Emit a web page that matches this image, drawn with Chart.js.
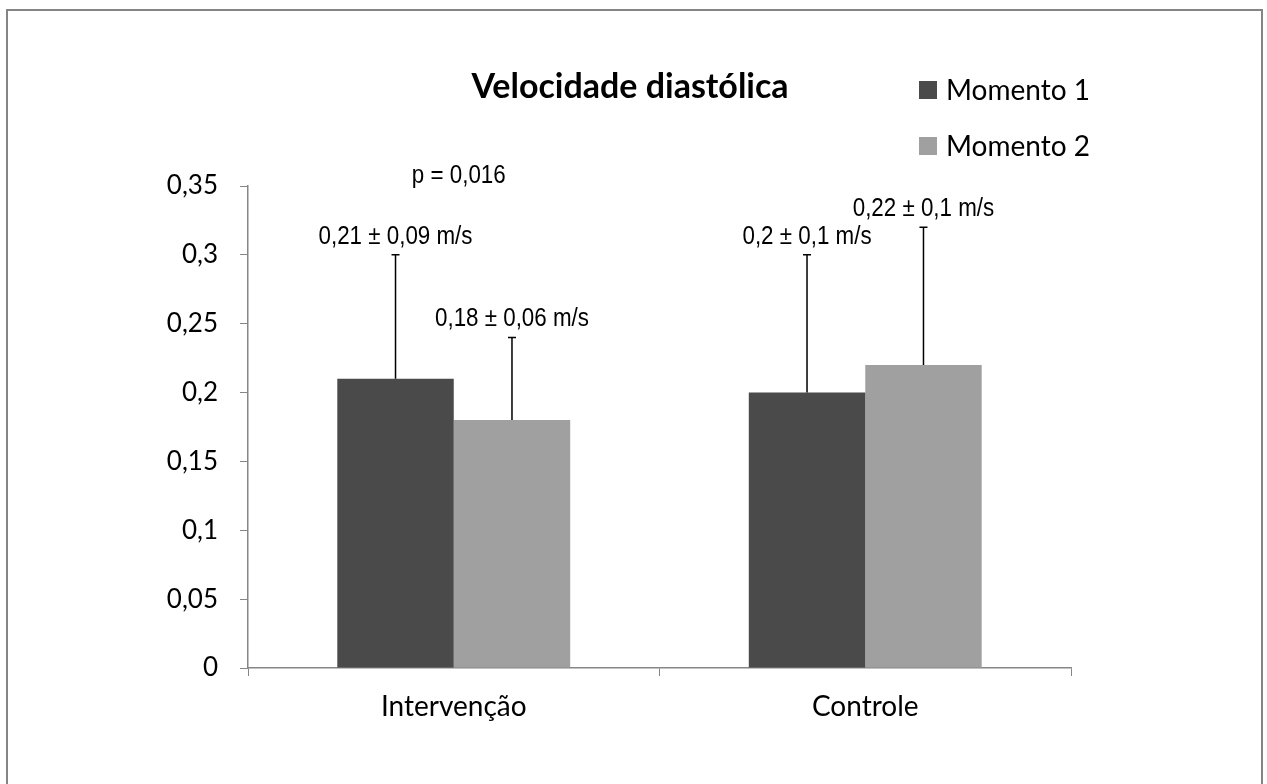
<!DOCTYPE html>
<html>
<head>
<meta charset="utf-8">
<script src="https://cdn.jsdelivr.net/npm/chart.js@4.4.0/dist/chart.umd.min.js"></script>
<style>
  body { margin: 0; background: #fff; }
  #grafico { display: block; }
</style>
</head>
<body>
<canvas id="grafico" width="1267" height="784"></canvas>
<script>
// Dados do gráfico
const categorias = ['Intervenção', 'Controle'];
const momento1 = [0.21, 0.20];
const momento2 = [0.18, 0.22];
const desvio1 = [0.09, 0.10];
const desvio2 = [0.06, 0.10];
const rotulos1 = ['0,21 ± 0,09 m/s', '0,2 ± 0,1 m/s'];
const rotulos2 = ['0,18 ± 0,06 m/s', '0,22 ± 0,1 m/s'];
const valorP = 'p = 0,016';
const titulo = 'Velocidade diastólica';

const fonteTexto = "Lato, 'Open Sans', sans-serif";
const fonteRotulo = "'Liberation Sans', Arial, sans-serif";

// texto estreito (tipo Arial Narrow), comprimido na horizontal
function textoEstreito(c, txt, x, y) {
  c.save();
  c.translate(x, y);
  c.scale(0.86, 1);
  c.fillText(txt, 0, 0);
  c.restore();
}

// Moldura, título, legenda, barras de erro e rótulos
const extras = {
  id: 'extras',
  beforeDraw(chart) {
    const c = chart.ctx;
    c.save();
    c.fillStyle = '#fff';
    c.fillRect(0, 0, chart.width, chart.height);
    c.strokeStyle = '#858585';
    c.lineWidth = 2;
    c.beginPath();
    c.moveTo(7, chart.height);
    c.lineTo(7, 10);
    c.lineTo(1262, 10);
    c.lineTo(1262, chart.height);
    c.stroke();
    c.restore();
  },
  afterDatasetsDraw(chart) {
    const c = chart.ctx;
    const y = chart.scales.y;
    const desvios = [desvio1, desvio2];
    const rotulos = [rotulos1, rotulos2];
    c.save();
    chart.data.datasets.forEach((ds, i) => {
      chart.getDatasetMeta(i).data.forEach((bar, j) => {
        const topo = y.getPixelForValue(ds.data[j] + desvios[i][j]);
        c.strokeStyle = '#000';
        c.lineWidth = 1.5;
        c.beginPath();
        c.moveTo(bar.x, bar.y);
        c.lineTo(bar.x, topo);
        c.moveTo(bar.x - 4, topo);
        c.lineTo(bar.x + 4, topo);
        c.stroke();
        c.fillStyle = '#000';
        c.font = '26px ' + fonteRotulo;
        c.textAlign = 'center';
        c.textBaseline = 'alphabetic';
        textoEstreito(c, rotulos[i][j], bar.x, topo - 11);
      });
    });
    // valor de p acima do grupo Intervenção
    const x = chart.scales.x;
    c.font = '26px ' + fonteRotulo;
    textoEstreito(c, valorP, x.getPixelForValue(0) + 5, y.top - 3);

    // título
    c.font = 'bold 34px ' + fonteTexto;
    c.fillText(titulo, 630, 98);

    // legenda
    c.textAlign = 'left';
    c.textBaseline = 'middle';
    c.font = '28px ' + fonteTexto;
    chart.data.datasets.forEach((ds, i) => {
      const cy = 90 + i * 56;
      c.fillStyle = ds.backgroundColor;
      c.fillRect(919, cy - 9, 18, 18);
      c.fillStyle = '#000';
      c.fillText(ds.label, 946, cy + 1);
    });
    c.restore();
  }
};

const ctx = document.getElementById('grafico').getContext('2d');
const grafico = new Chart(ctx, {
  type: 'bar',
  data: {
    labels: categorias,
    datasets: [
      { label: 'Momento 1', data: momento1, backgroundColor: '#4a4a4a' },
      { label: 'Momento 2', data: momento2, backgroundColor: '#a0a0a0' }
    ]
  },
  options: {
    responsive: false,
    animation: false,
    categoryPercentage: 0.566,
    barPercentage: 1,
    layout: { padding: { left: 0, top: 186, right: 196, bottom: 0 } },
    plugins: {
      legend: { display: false },
      tooltip: { enabled: false }
    },
    scales: {
      x: {
        afterFit(s) { s.height = 116; },
        border: { color: '#868686', width: 1.5 },
        grid: { offset: true, drawOnChartArea: false, tickLength: 8, color: '#868686' },
        ticks: { color: '#000', font: { family: fonteTexto, size: 28 }, padding: 14 }
      },
      y: {
        min: 0,
        max: 0.35,
        afterFit(s) { s.width = 248; },
        border: { color: '#868686', width: 1.5 },
        grid: { drawOnChartArea: false, tickLength: 8, color: '#868686' },
        ticks: {
          stepSize: 0.05,
          color: '#000',
          font: { family: fonteTexto, size: 26 },
          padding: 22,
          callback: v => String(Math.round(v * 100) / 100).replace('.', ',')
        }
      }
    }
  },
  plugins: [extras]
});
</script>
</body>
</html>
